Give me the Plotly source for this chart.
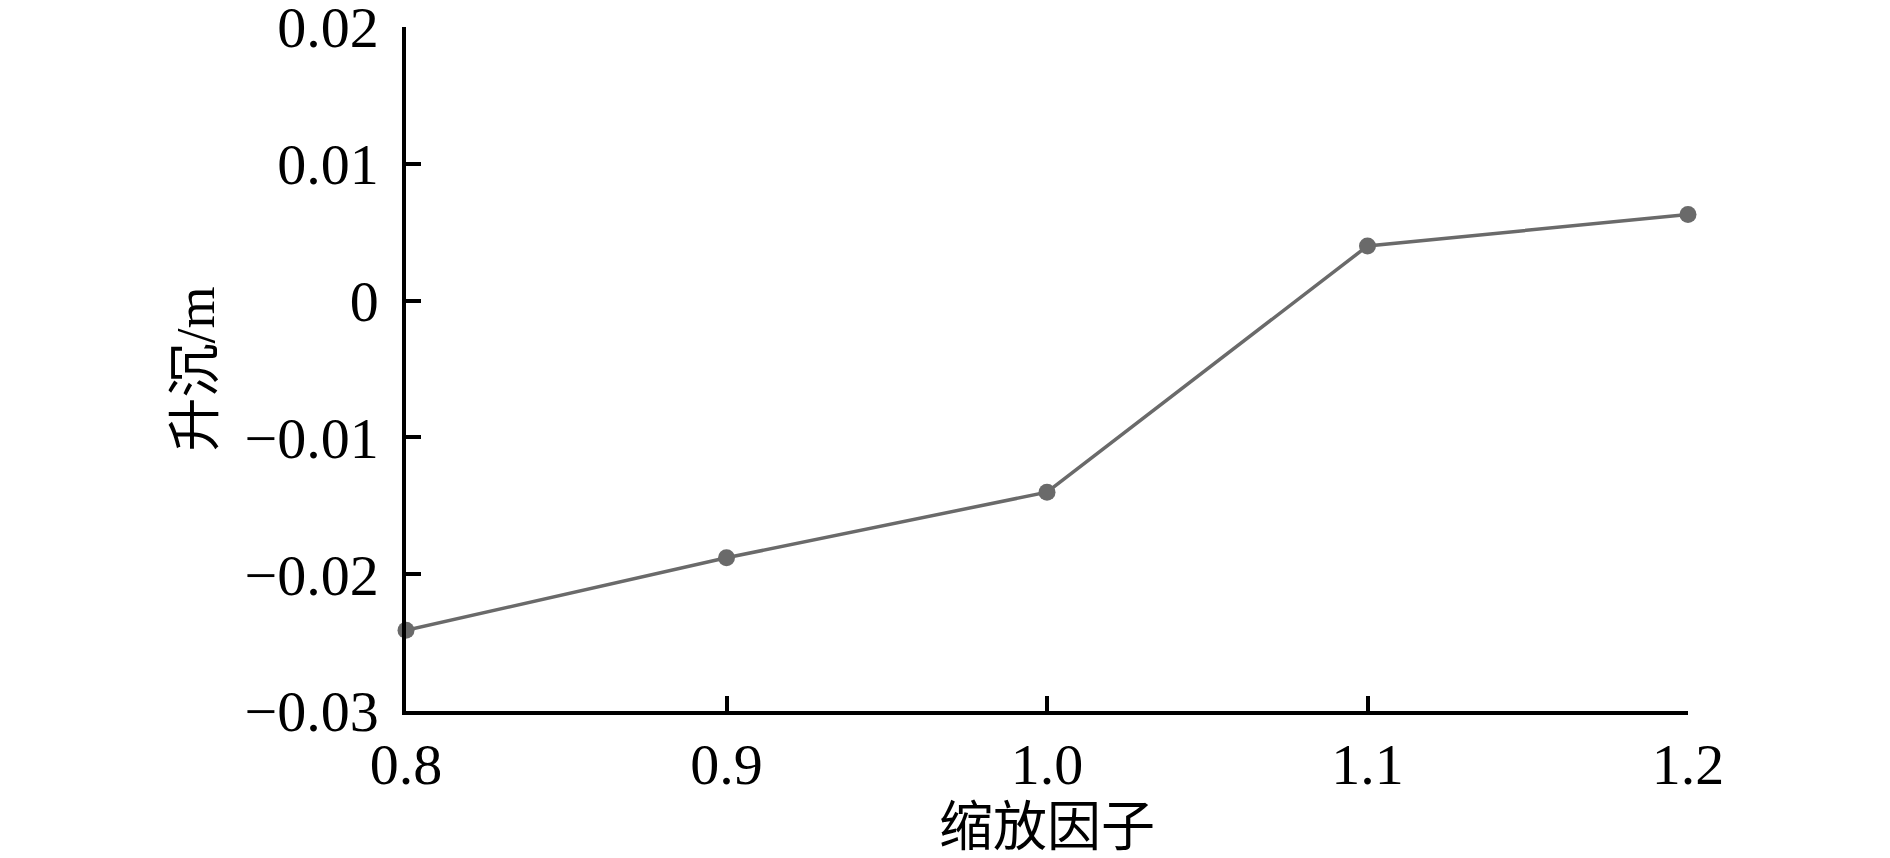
import plotly.graph_objects as go

# 缩放因子 vs 升沉
scale_factor = [0.8, 0.9, 1.0, 1.1, 1.2]
heave = [-0.0241, -0.0188, -0.0140, 0.0040, 0.0063]

x_ticks = [0.8, 0.9, 1.0, 1.1, 1.2]
x_ticklabels = ["0.8", "0.9", "1.0", "1.1", "1.2"]
y_ticks = [-0.03, -0.02, -0.01, 0, 0.01, 0.02]
y_ticklabels = ["\u22120.03", "\u22120.02", "\u22120.01", "0", "0.01", "0.02"]

FONT = "Liberation Serif, Times New Roman, Noto Sans CJK SC, serif"
LINE_COLOR = "#6a6a6a"

fig = go.Figure()

fig.add_trace(go.Scatter(
    x=scale_factor, y=heave,
    mode="lines+markers",
    line=dict(color=LINE_COLOR, width=3.5),
    marker=dict(size=17, color=LINE_COLOR),
    cliponaxis=False,
    showlegend=False,
))

# 页面 body 默认有 8px 边距，所以画布略小于窗口
fig.update_layout(
    width=1882, height=850,
    margin=dict(l=398, r=202, t=19, b=147),
    plot_bgcolor="white",
    paper_bgcolor="white",
    font=dict(family=FONT, size=58, color="black"),
    xaxis=dict(
        title=dict(text="缩放因子", font=dict(size=54), standoff=30),
        range=[0.8, 1.2],
        tickvals=x_ticks, ticktext=x_ticklabels,
        ticks="inside", ticklen=15, tickwidth=3.5, tickcolor="black",
        ticklabeloverflow="allow",
        showline=True, linecolor="black", linewidth=3.5,
        showgrid=False, zeroline=False, automargin=False,
    ),
    yaxis=dict(
        title=dict(text="升沉/m", font=dict(size=54), standoff=14),
        range=[-0.03, 0.02001],
        tickvals=y_ticks, ticktext=y_ticklabels,
        ticks="inside", ticklen=15, tickwidth=3.5, tickcolor="black",
        ticklabelstandoff=12, ticklabeloverflow="allow",
        showline=True, linecolor="black", linewidth=3.5,
        showgrid=False, zeroline=False, automargin=False,
    ),
)

fig.write_html("out.html")
